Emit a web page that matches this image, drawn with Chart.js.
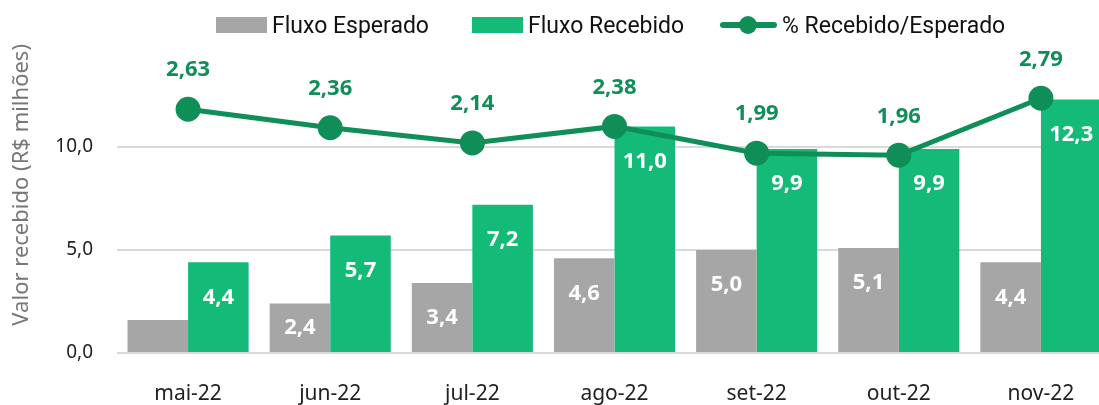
<!DOCTYPE html>
<html>
<head>
<meta charset="utf-8">
<script src="https://cdn.jsdelivr.net/npm/chart.js@4"></script>
<style>
  html, body { margin: 0; padding: 0; background: #fff; overflow: hidden; }
  #wrap { position: relative; width: 1112px; height: 405px; }
  #legend { position: absolute; top: 0; left: 0; width: 1099px; height: 44px;
    font-family: "Roboto", sans-serif; font-size: 23px; color: #111; }
  .item { position: absolute; top: 11px; height: 28px; display: flex; align-items: center; }
  .item .txt { white-space: nowrap; margin-left: 5px; }
  .box { width: 51px; height: 16px; }
  .ln { position: relative; width: 57px; height: 18px; }
  .ln::before { content: ""; position: absolute; left: 0; right: 0; top: 6px; height: 6px; background: #108e58; border-radius: 3px; }
  .ln::after { content: ""; position: absolute; left: 19px; top: 0; width: 18px; height: 18px; border-radius: 50%; background: #108e58; }
</style>
</head>
<body>
<div id="wrap">
  <div id="legend"></div>
  <canvas id="chart" width="1112" height="405"></canvas>
</div>
<script>
const meses = ["mai-22", "jun-22", "jul-22", "ago-22", "set-22", "out-22", "nov-22"];
const fluxoEsperado = [1.6, 2.4, 3.4, 4.6, 5.0, 5.1, 4.4];
const fluxoRecebido = [4.4, 5.7, 7.2, 11.0, 9.9, 9.9, 12.3];
const percentual = [2.63, 2.36, 2.14, 2.38, 1.99, 1.96, 2.79];

const CINZA = "#a6a6a6";
const VERDE = "#14bb78";
const VERDE_ESCURO = "#108e58";

const fmt = (v, d) => v.toFixed(d).replace(".", ",");

// legenda em HTML
const legend = document.getElementById("legend");
[["Fluxo Esperado", "box", CINZA, 216], ["Fluxo Recebido", "box", VERDE, 472], ["% Recebido/Esperado", "ln", null, 720]]
  .forEach(([txt, cls, cor, left]) => {
    const it = document.createElement("div");
    it.className = "item";
    it.style.left = left + "px";
    const sw = document.createElement("span");
    sw.className = cls;
    if (cor) sw.style.background = cor;
    const t = document.createElement("span");
    t.className = "txt";
    t.textContent = txt;
    it.appendChild(sw);
    it.appendChild(t);
    legend.appendChild(it);
  });

// rótulos dos valores
const rotulos = {
  id: "rotulos",
  afterDatasetsDraw(chart) {
    const ctx = chart.ctx;
    ctx.save();
    ctx.textAlign = "center";
    ctx.textBaseline = "middle";
    chart.data.datasets.forEach((ds, i) => {
      const meta = chart.getDatasetMeta(i);
      meta.data.forEach((el, j) => {
        const v = ds.data[j];
        if (ds.type === "line") {
          ctx.fillStyle = VERDE_ESCURO;
          ctx.font = "bold 22px 'Noto Sans'";
          ctx.fillText(fmt(v, 2), el.x, el.y - 39);
        } else {
          if (v < 2) return;
          const mid = (el.y + el.base) / 2;
          ctx.fillStyle = "#fff";
          ctx.font = "bold 22px 'Noto Sans'";
          ctx.fillText(fmt(v, 1), el.x, Math.min(el.y + 35, mid));
        }
      });
    });
    ctx.restore();
  }
};

new Chart(document.getElementById("chart"), {
  type: "bar",
  data: {
    labels: meses,
    datasets: [
      {
        type: "line",
        label: "% Recebido/Esperado",
        data: percentual,
        yAxisID: "y2",
        borderColor: VERDE_ESCURO,
        backgroundColor: VERDE_ESCURO,
        borderWidth: 5,
        pointRadius: 10,
        pointHoverRadius: 10,
        tension: 0,
        order: 0
      },
      {
        label: "Fluxo Esperado",
        data: fluxoEsperado,
        backgroundColor: CINZA,
        barPercentage: 1,
        categoryPercentage: 0.852,
        order: 1
      },
      {
        label: "Fluxo Recebido",
        data: fluxoRecebido,
        backgroundColor: VERDE,
        barPercentage: 1,
        categoryPercentage: 0.852,
        order: 1
      }
    ]
  },
  options: {
    responsive: false,
    animation: false,
    layout: { autoPadding: false, padding: { top: 44, right: 0, left: 0, bottom: 0 } },
    plugins: {
      legend: { display: false },
      tooltip: { enabled: false }
    },
    scales: {
      x: {
        grid: { display: false },
        border: { display: false },
        ticks: { color: "#222", font: { family: "Noto Sans", size: 21 }, padding: 20 },
        afterFit: (s) => { s.height = 52; }
      },
      y: {
        min: 0,
        max: 15,
        afterBuildTicks: (s) => { s.ticks = [0, 5, 10].map(v => ({ value: v })); },
        grid: { color: "#d9d9d9", lineWidth: 2, drawTicks: false },
        border: { display: false },
        ticks: { color: "#222", font: { family: "Noto Sans", size: 19 }, padding: 24,
          callback: (v) => fmt(v, 1) },
        title: { display: true, text: "Valor recebido (R$ milhões)", color: "#777", align: "end",
          font: { family: "Noto Sans", size: 22 }, padding: { top: 9, bottom: 0 } },
        afterFit: (s) => { s.width = 117; }
      },
      y2: {
        display: false,
        min: -0.92,
        max: 3.58
      }
    }
  },
  plugins: [rotulos]
});
</script>
</body>
</html>
